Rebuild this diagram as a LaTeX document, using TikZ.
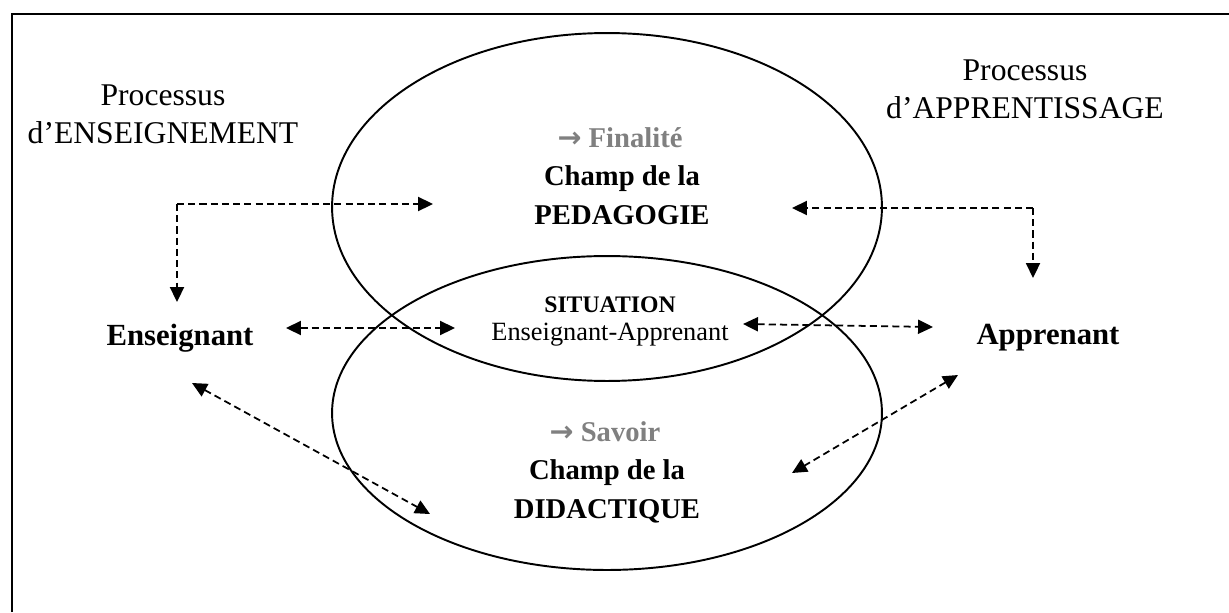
\documentclass[tikz,border=0pt]{standalone}
\usepackage{fontspec}
\setmainfont{Liberation Serif}
\newfontfamily\symfont{DejaVu Sans}
\usepackage{xcolor}
\usetikzlibrary{positioning,arrows.meta}
\definecolor{fingray}{RGB}{128,128,128}

\begin{document}
\begin{tikzpicture}[x=0.02cm, y=-0.02cm,
    proc/.style={font=\fontsize{18}{21.5}\selectfont, align=center, inner sep=0},
    champ/.style={font=\fontsize{16.3}{22.3}\selectfont\bfseries, align=center, inner sep=0},
    fin/.style={champ, text=fingray},
    actor/.style={font=\fontsize{17.5}{21}\selectfont\bfseries, inner sep=0},
    sit/.style={font=\fontsize{15}{17}\selectfont, inner sep=0},
    field/.style={line width=1.1pt},
    link/.style={dash pattern=on 4pt off 2.4pt, line width=1pt, -{Triangle[length=8.5pt,width=8pt]}},
    dlink/.style={link, {Triangle[length=8.5pt,width=8pt]}-{Triangle[length=8.5pt,width=8pt]}}
]
    \useasboundingbox (0,0) rectangle (1229,612);
    \draw[line width=1.7pt] (12,612) -- (12,14) -- (1229,14);

    % the two fields
    \draw[field] (607,207) ellipse [x radius=5.5cm, y radius=3.48cm];
    \draw[field] (607,413) ellipse [x radius=5.5cm, y radius=3.14cm];

    \node[proc] (procE) at (163,114) {Processus\\d’ENSEIGNEMENT};
    \node[proc] (procA) at (1025,89) {Processus\\d’APPRENTISSAGE};

    \node[fin] (fina) at (620,138) {{\symfont\bfseries →} Finalité};
    \node[champ] (peda) at (622,195) {Champ de la\\PEDAGOGIE};
    \node[sit, font=\fontsize{13.5}{17}\selectfont\bfseries] (situ) at (610,305) {SITUATION};
    \node[sit] (ensapp) at (610,335) {Enseignant-Apprenant};
    \node[fin] (savo) at (605,432) {{\symfont\bfseries →} Savoir};
    \node[champ] (dida) at (607,491) {Champ de la\\DIDACTIQUE};

    \node[actor] (ens) at (180,338) {Enseignant};
    \node[actor] (app) at (1048,338) {Apprenant};

    % arrow ends
    \coordinate (cE) at (177,204);
    \coordinate (cA) at (1033,208);
    \coordinate (pE) at (433,204);
    \coordinate (pA) at (792,208);
    \coordinate (eTop) at (177,302);
    \coordinate (aTop) at (1033,278);
    \coordinate (sE1) at (286,328);
    \coordinate (sE2) at (455,328);
    \coordinate (sA1) at (743,324);
    \coordinate (sA2) at (933,327);
    \coordinate (dE1) at (192,383);
    \coordinate (dE2) at (430,514);
    \coordinate (dA1) at (958,375);
    \coordinate (dA2) at (792,473);

    \draw[link] (cE) -- (pE);
    \draw[link] (cE) -- (eTop);
    \draw[link] (cA) -- (pA);
    \draw[link] (cA) -- (aTop);
    \draw[dlink] (sE1) -- (sE2);
    \draw[dlink] (sA1) -- (sA2);
    \draw[dlink] (dE1) -- (dE2);
    \draw[dlink] (dA1) -- (dA2);
\end{tikzpicture}
\end{document}
